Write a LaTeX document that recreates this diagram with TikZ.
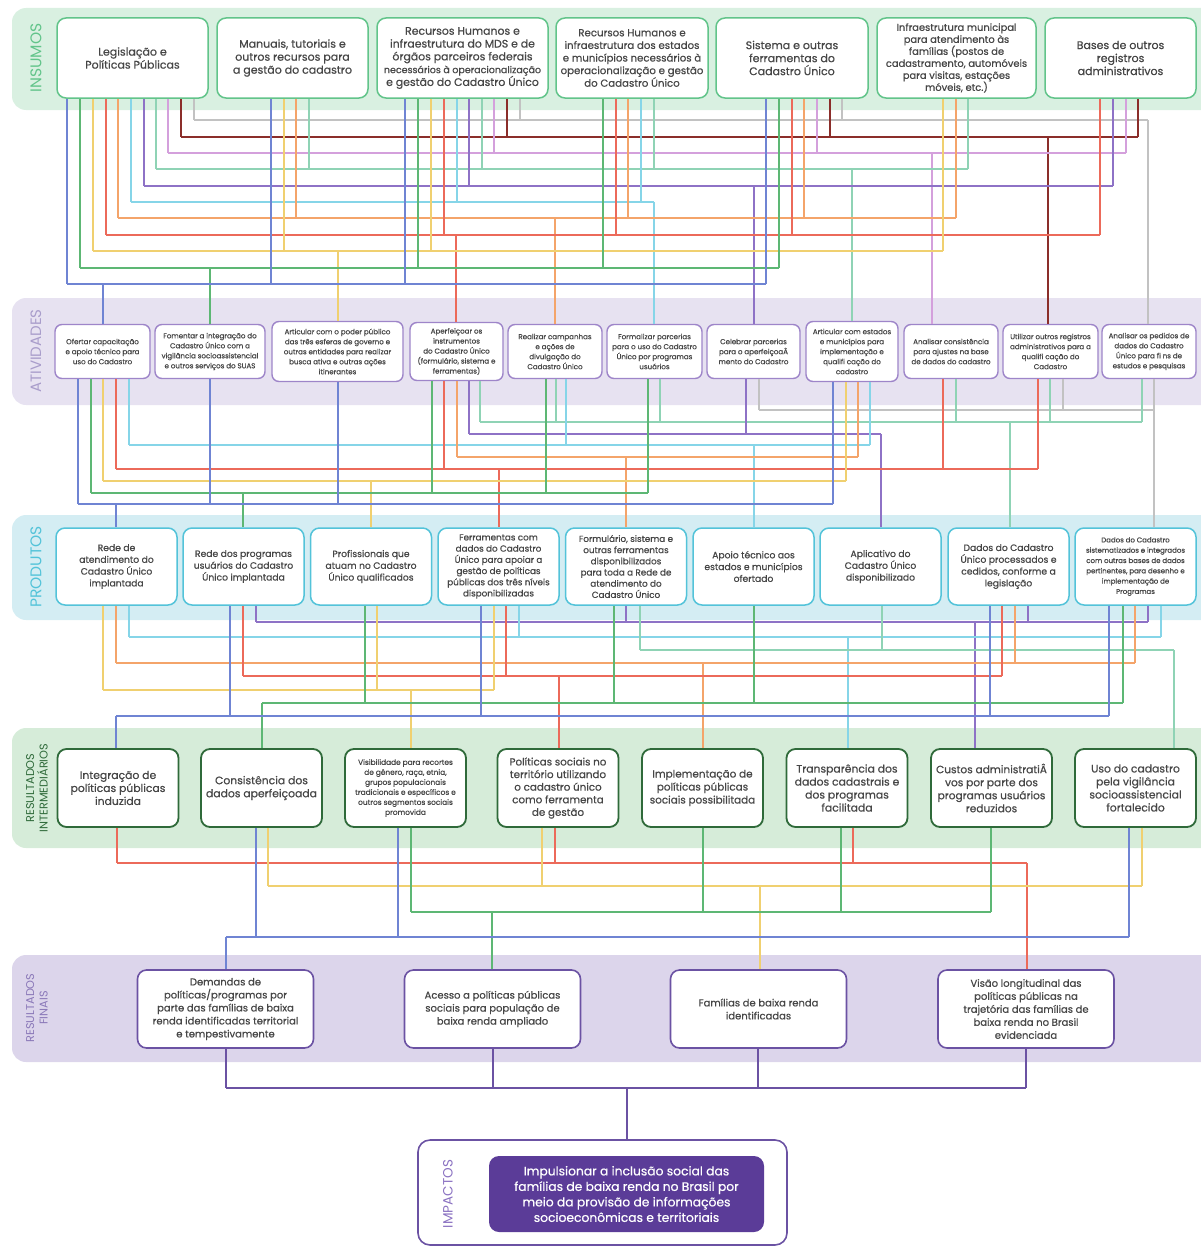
\documentclass[tikz,border=0pt]{standalone}
\usepackage{fontspec}
\setmainfont{Poppins}[FakeBold=0.6]
\newfontfamily\lightfont{Poppins}
\definecolor{txt}{HTML}{464646}
\definecolor{bandIns}{HTML}{D9F0E1}
\definecolor{bandAtv}{HTML}{E7E2F1}
\definecolor{bandPro}{HTML}{D4EDF3}
\definecolor{bandRI}{HTML}{D6ECD9}
\definecolor{bandRF}{HTML}{DCD5EB}
\definecolor{bIns}{HTML}{62C48A}
\definecolor{bAtv}{HTML}{9E85C9}
\definecolor{bPro}{HTML}{53C3D9}
\definecolor{bRI}{HTML}{2F6A3A}
\definecolor{bRF}{HTML}{6B52A3}
\definecolor{lAtv}{HTML}{A99DCB}
\definecolor{lRF}{HTML}{8A78B8}
\definecolor{lImp}{HTML}{8B72C2}
\definecolor{impF}{HTML}{5B3C98}
\definecolor{cBlue}{HTML}{6F84D3}
\definecolor{cGreen}{HTML}{5DB774}
\definecolor{cYellow}{HTML}{F0D070}
\definecolor{cRed}{HTML}{EC6A5A}
\definecolor{cOrange}{HTML}{F4A46A}
\definecolor{cCyan}{HTML}{86D5E8}
\definecolor{cPurple}{HTML}{8E72C6}
\definecolor{cMint}{HTML}{8FD3B5}
\definecolor{cPink}{HTML}{D4A0DC}
\definecolor{cDred}{HTML}{8B2E2A}
\definecolor{cGray}{HTML}{C2C2C2}
\newcommand\drawbus[7]{%
  \draw[ln,#1] (#3,#2) -- (#4,#2);
  \draw[ln,#1] (#6,#2) -- (#5.north -| #6,0);
  \foreach \n/\xx in {#7}{\draw[ln,#1] (\n.south -| \xx,0) -- (\xx,#2);}%
}
\newcommand\fs[2]{\fontsize{#1}{#2}\selectfont}
\begin{document}
\begin{tikzpicture}[x=1pt,y=-1pt,
  ln/.style={line width=1.3pt},
  band/.style={rounded corners=14pt},
  boxbase/.style={fill=white,rounded corners=9pt,align=center,text=txt,inner sep=1pt},
  insbox/.style={boxbase,draw=bIns,line width=1.5pt,minimum height=80pt,font=\fs{11}{13}},
  atvbox/.style={boxbase,draw=bAtv,line width=1.4pt,minimum height=54pt,rounded corners=7pt,font=\fs{7.1}{10}},
  probox/.style={boxbase,draw=bPro,line width=1.5pt,minimum height=77pt,minimum width=121pt,font=\fs{9.2}{11.8}},
  ribox/.style={boxbase,draw=bRI,line width=1.8pt,minimum height=78pt,minimum width=121pt,font=\fs{10.8}{13}},
  rfbox/.style={boxbase,draw=bRF,line width=1.6pt,minimum height=78pt,minimum width=176pt,font=\fs{10}{13}},
  bandlbl/.style={rotate=90,align=center}
]
\useasboundingbox (0,0) rectangle (1200,1247);
% bands
\fill[band,bandIns] (12,8) rectangle (1216,110);
\fill[band,bandAtv] (12,298) rectangle (1216,405);
\fill[band,bandPro] (12,515) rectangle (1216,620);
\fill[band,bandRI] (12,728) rectangle (1216,848);
\fill[band,bandRF] (12,955) rectangle (1216,1062);
\node[bandlbl,text=bIns,font=\lightfont\fs{15.5}{16}] (lIns) at (36,58) {INSUMOS};
\node[bandlbl,text=lAtv,font=\lightfont\fs{15}{16}] (lAtv) at (36,351) {ATIVIDADES};
\node[bandlbl,text=bPro,font=\lightfont\fs{15.5}{16}] (lPro) at (36,567) {PRODUTOS};
\node[bandlbl,text=bRI,font=\lightfont\fs{11.3}{13.5}] (lRI) at (37,788) {RESULTADOS\\INTERMEDIÁRIOS};
\node[bandlbl,text=lRF,font=\lightfont\fs{11.3}{13.5}] (lRF) at (37,1008) {RESULTADOS\\FINAIS};

% INSUMOS
\node[insbox,minimum width=151pt] (I1) at (132.5,58) {Legislação e\\Políticas Públicas};
\node[insbox,minimum width=151pt] (I2) at (292.5,58) {Manuais, tutoriais e\\outros recursos para\\a gestão do cadastro};
\node[insbox,minimum width=171pt,font=\fs{10.9}{12.8}] (I3) at (462.5,58) {Recursos Humanos e\\infraestrutura do MDS e de\\órgãos parceiros federais\\{\fs{9.5}{12.8}necessários à operacionalização}\\e gestão do Cadastro Único};
\node[insbox,minimum width=152pt,font=\fs{10.2}{12.6}] (I4) at (632,58) {Recursos Humanos e\\infraestrutura dos estados\\e municípios necessários à\\operacionalização e gestão\\do Cadastro Único};
\node[insbox,minimum width=152pt] (I5) at (792,58) {Sistema e outras\\ferramentas do\\Cadastro Único};
\node[insbox,minimum width=159pt,font=\fs{9.9}{12}] (I6) at (956.5,58) {Infraestrutura municipal\\para atendimento às\\famílias (postos de\\cadastramento, automóveis\\para visitas, estações\\móveis, etc.)};
\node[insbox,minimum width=151pt] (I7) at (1120.5,58) {Bases de outros\\registros\\administrativos};

% ATIVIDADES
\node[atvbox,minimum width=95pt] (A1) at (102.5,351.5) {Ofertar capacitação\\e apoio técnico para\\uso do Cadastro};
\node[atvbox,minimum width=110pt] (A2) at (210,351.5) {Fomentar a integração do\\Cadastro Único com a\\vigilância socioassistencial\\e outros serviços do SUAS};
\node[atvbox,minimum width=131pt,minimum height=60pt] (A3) at (337.5,351.5) {Articular com o poder público\\das três esferas de governo e\\outras entidades para realizar\\busca ativa e outras ações\\itinerantes};
\node[atvbox,minimum width=93pt,minimum height=58pt] (A4) at (456.5,351.5) {Aperfeiçoar os\\instrumentos\\do Cadastro Único\\(formulário, sistema e\\ferramentas)};
\node[atvbox,minimum width=94pt] (A5) at (555,351.5) {Realizar campanhas\\e ações de\\divulgação do\\Cadastro Único};
\node[atvbox,minimum width=95pt] (A6) at (654.5,351.5) {Formalizar parcerias\\para o uso do Cadastro\\Único por programas\\usuários};
\node[atvbox,minimum width=93pt] (A7) at (753.5,351.5) {Celebrar parcerias\\para o aperfeiçoaÂ\\mento do Cadastro};
\node[atvbox,minimum width=92pt,minimum height=60pt] (A8) at (852,351.5) {Articular com estados\\e municípios para\\implementação e\\qualifi cação do\\cadastro};
\node[atvbox,minimum width=94pt] (A9) at (951,351.5) {Analisar consistência\\para ajustes na base\\de dados do cadastro};
\node[atvbox,minimum width=95pt] (A10) at (1050.5,351.5) {Utilizar outros registros\\administrativos para a\\qualifi cação do\\Cadastro};
\node[atvbox,minimum width=94pt] (A11) at (1149,351.5) {Analisar os pedidos de\\dados do Cadastro\\Único para fi ns de\\estudos e pesquisas};

% PRODUTOS
\node[probox] (P1) at (116.5,566.5) {Rede de\\atendimento do\\Cadastro Único\\implantada};
\node[probox] (P2) at (243.5,566.5) {Rede dos programas\\usuários do Cadastro\\Único implantada};
\node[probox] (P3) at (371,566.5) {Profissionais que\\atuam no Cadastro\\Único qualificados};
\node[probox,font=\fs{8.8}{11.2}] (P4) at (498.5,566.5) {Ferramentas com\\dados do Cadastro\\Único para apoiar a\\gestão de políticas\\públicas dos três níveis\\disponibilizadas};
\node[probox,font=\fs{8.8}{11.2}] (P5) at (626,566.5) {Formulário, sistema e\\outras ferramentas\\disponibilizados\\para toda a Rede de\\atendimento do\\Cadastro Único};
\node[probox] (P6) at (753.5,566.5) {Apoio técnico aos\\estados e municípios\\ofertado};
\node[probox] (P7) at (880.5,566.5) {Aplicativo do\\Cadastro Único\\disponibilizado};
\node[probox] (P8) at (1008.5,566.5) {Dados do Cadastro\\Único processados e\\cedidos, conforme a\\legislação};
\node[probox,font=\fs{7}{10.3}] (P9) at (1135.5,566.5) {Dados do Cadastro\\sistematizados e integrados\\com outras bases de dados\\pertinentes, para desenho e\\implementação de\\Programas};

% RESULTADOS INTERMEDIARIOS
\node[ribox] (R1) at (118,788) {Integração de\\políticas públicas\\induzida};
\node[ribox] (R2) at (261.5,788) {Consistência dos\\dados aperfeiçoada};
\node[ribox,font=\fs{7.4}{10}] (R3) at (405.5,788) {Visibilidade para recortes\\de gênero, raça, etnia,\\grupos populacionais\\tradicionais e específicos e\\outros segmentos sociais\\promovida};
\node[ribox,font=\fs{10.3}{12.6}] (R4) at (558,788) {Políticas sociais no\\território utilizando\\o cadastro único\\como ferramenta\\de gestão};
\node[ribox,font=\fs{10.4}{13}] (R5) at (702.5,788) {Implementação de\\políticas públicas\\sociais possibilitada};
\node[ribox] (R6) at (847,788) {Transparência dos\\dados cadastrais e\\dos programas\\facilitada};
\node[ribox,font=\fs{10.6}{13}] (R7) at (991.5,788) {Custos administratiÂ\\vos por parte dos\\programas usuários\\reduzidos};
\node[ribox] (R8) at (1135.5,788) {Uso do cadastro\\pela vigilância\\socioassistencial\\fortalecido};

% RESULTADOS FINAIS
\node[rfbox] (F1) at (225.5,1009) {Demandas de\\políticas/programas por\\parte das famílias de baixa\\renda identificadas territorial\\e tempestivamente};
\node[rfbox] (F2) at (492.5,1009) {Acesso a políticas públicas\\sociais para população de\\baixa renda ampliado};
\node[rfbox] (F3) at (758.5,1009) {Famílias de baixa renda\\identificadas};
\node[rfbox] (F4) at (1026,1009) {Visão longitudinal das\\políticas públicas na\\trajetória das famílias de\\baixa renda no Brasil\\evidenciada};

% IMPACTOS
\node[draw=bRF,line width=1.6pt,fill=white,rounded corners=12pt,minimum width=369pt,minimum height=105pt,inner sep=0pt] (IMP) at (602.5,1192.5) {};
\node[rotate=90,text=lImp,font=\lightfont\fs{13.5}{14}] (lImp) at (448,1194) {IMPACTOS};
\node[fill=impF,rounded corners=10pt,minimum width=275pt,minimum height=76pt,align=center,text=white,font=\fs{12.3}{15.5},inner sep=1pt] (IMPI) at (626.5,1194) {Impulsionar a inclusão social das\\famílias de baixa renda no Brasil por\\meio da provisão de informações\\socioeconômicas e territoriais};

% Layer 1: Insumos -> Atividades
\drawbus{cGray}{120}{194}{1148}{A11}{1148}{I1/194,I3/520,I5/842}
\drawbus{cDred}{137}{181}{1138}{A10}{1048}{I1/181,I3/507,I5/830,I7/1138}
\drawbus{cPink}{153}{168}{1126}{A9}{932}{I1/168,I3/494,I5/817,I7/1126}
\drawbus{cMint}{169}{156}{968}{A8}{852}{I1/156,I2/309,I3/482,I4/654,I6/968}
\drawbus{cPurple}{186}{144}{1113}{A7}{754}{I1/144,I3/469,I7/1113}
\drawbus{cCyan}{202}{131}{654}{A6}{654}{I1/131,I3/457,I4/641}
\drawbus{cOrange}{218}{118}{956}{A5}{555}{I1/118,I2/296,I4/628,I5/804,I6/956}
\drawbus{cRed}{235}{106}{1100}{A4}{456}{I1/106,I3/444,I4/616,I5/792,I7/1100}
\drawbus{cYellow}{251}{93}{943}{A3}{338}{I1/93,I2/284,I3/431,I6/943}
\drawbus{cGreen}{268}{80}{779}{A2}{210}{I1/80,I3/418,I4/603,I5/779}
\drawbus{cBlue}{284}{67}{766}{A1}{103}{I1/67,I2/271,I3/405,I5/766}

% Layer 2: Atividades -> Produtos
\drawbus{cGray}{410}{759}{1154}{P9}{1154}{A7/759,A10/1063,A11/1154}
\drawbus{cMint}{422}{480}{1142}{P8}{1010}{A4/480,A5/556,A6/660,A9/956,A10/1050,A11/1142}
\drawbus{cPurple}{434}{469}{881}{P7}{881}{A4/469,A7/746}
\drawbus{cCyan}{445}{129}{870}{P6}{754}{A1/129,A5/566,A8/870}
\drawbus{cOrange}{457}{457}{858}{P5}{626}{A4/457,A8/858}
\drawbus{cRed}{469}{116}{1038}{P4}{499}{A1/116,A4/444,A9/943,A10/1038}
\drawbus{cYellow}{481}{103}{846}{P3}{371}{A1/103,A8/846}
\drawbus{cGreen}{493}{91}{648}{P2}{243}{A1/91,A4/432,A5/546,A6/648}
\drawbus{cBlue}{504}{78}{833}{P1}{116}{A1/78,A2/210,A3/338,A8/833}

% Layer 3: Produtos -> Resultados intermediarios
\drawbus{cPurple}{622}{256}{1148}{R7}{975}{P2/256,P5/626,P8/1028,P9/1148}
\drawbus{cCyan}{637}{129}{1161}{R6}{848}{P1/129,P4/519,P9/1161}
\drawbus{cMint}{650}{640}{1174}{R8}{1174}{P5/640,P7/882}
\drawbus{cOrange}{663}{116}{1135}{R5}{703}{P1/116,P8/1015,P9/1135}
\drawbus{cRed}{676}{243}{1002}{R4}{559}{P2/243,P4/506,P8/1002}
\drawbus{cYellow}{690}{103}{494}{R3}{411}{P1/103,P3/377,P4/494}
\drawbus{cGreen}{703}{262}{1123}{R2}{262}{P3/365,P5/614,P6/754,P9/1123}
\drawbus{cBlue}{716}{116}{1109}{R1}{116}{P2/230,P4/481,P8/990,P9/1109}

% Layer 4: Resultados intermediarios -> finais
\drawbus{cRed}{863}{117}{1027}{F4}{1027}{R1/117,R4/555,R6/853}
\drawbus{cYellow}{886}{268}{1142}{F3}{760}{R2/268,R4/542,R8/1142}
\drawbus{cGreen}{912}{411}{991}{F2}{492}{R3/411,R5/703,R6/841,R7/991}
\drawbus{cBlue}{937}{226}{1129}{F1}{226}{R2/256,R3/398,R8/1129}

% Layer 5: finais -> impactos
\coordinate (hubL) at (226,1088);
\coordinate (hubR) at (1026,1088);
\coordinate (hubC) at (627,1088);
\foreach \f/\xx in {F1/226,F2/493,F3/758,F4/1026}{\draw[ln,bRF,line width=1.6pt] (\f.south -| \xx,0) -- (\xx,1088);}
\draw[ln,bRF,line width=1.6pt] (hubL) -- (hubR);
\draw[ln,bRF,line width=1.6pt] (hubC) -- (IMP.north -| hubC);
\end{tikzpicture}
\end{document}
